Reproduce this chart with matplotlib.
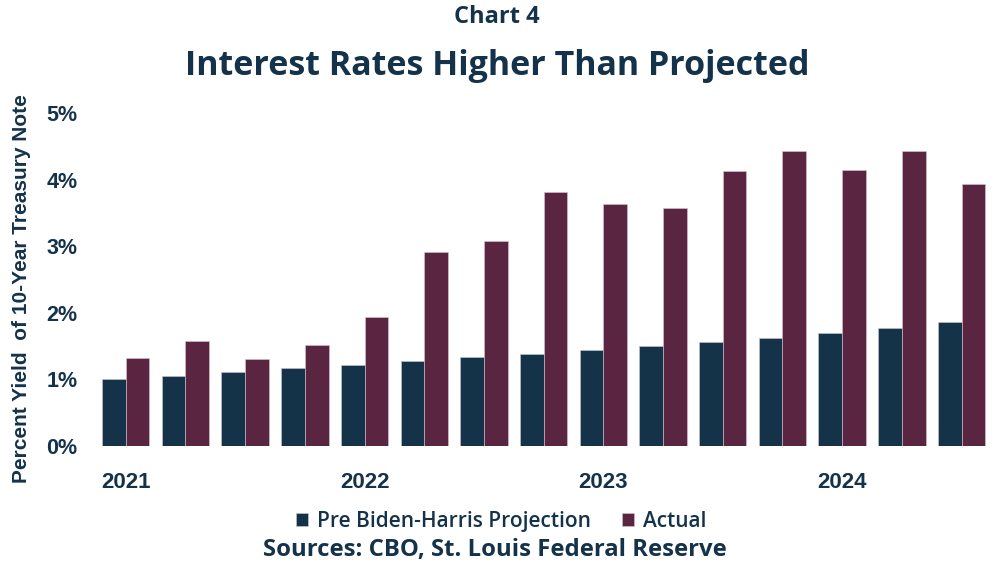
import matplotlib
matplotlib.use("Agg")
import matplotlib.pyplot as plt
import numpy as np

# quarterly data, 2021 Q1 - 2024 Q3
quarters = ["2021 Q1", "2021 Q2", "2021 Q3", "2021 Q4",
            "2022 Q1", "2022 Q2", "2022 Q3", "2022 Q4",
            "2023 Q1", "2023 Q2", "2023 Q3", "2023 Q4",
            "2024 Q1", "2024 Q2", "2024 Q3"]
projection = [1.00, 1.055, 1.105, 1.165, 1.21, 1.27, 1.33, 1.38,
              1.435, 1.495, 1.56, 1.63, 1.705, 1.78, 1.86]
actual = [1.325, 1.58, 1.31, 1.515, 1.94, 2.915, 3.085, 3.815,
          3.63, 3.58, 4.135, 4.43, 4.14, 4.43, 3.935]
year_labels = ["2021", "2022", "2023", "2024"]
year_pos = [0, 4, 8, 12]
y_ticks = [0, 1, 2, 3, 4, 5]

NAVY = "#143248"
MAROON = "#5a2540"
TEXT = "#14334a"

fig = plt.figure(figsize=(10, 5.66), dpi=100)
ax = fig.add_axes([0.09, 0.212, 0.90, 0.588])

x = np.arange(len(quarters))
w = 0.397
ax.bar(x - w / 2, projection, width=w, color=NAVY, edgecolor="#c9c9d4", linewidth=0.4,
       label="Pre Biden-Harris Projection")
ax.bar(x + w / 2, actual, width=w, color=MAROON, edgecolor="#d9c4cf", linewidth=0.4,
       label="Actual")

ax.set_xlim(-0.598, 14.477)
ax.set_ylim(0, 5)
ax.set_yticks(y_ticks)
ax.set_yticklabels([f"{t}%" for t in y_ticks], fontfamily="Liberation Sans",
                   fontweight="bold", fontsize=15.5, color=TEXT)
ax.set_xticks(year_pos)
ax.set_xticklabels(year_labels, fontfamily="Liberation Sans", fontweight="bold",
                   fontsize=16, color=TEXT)
ax.tick_params(axis="both", length=0)
ax.tick_params(axis="x", pad=19)
ax.tick_params(axis="y", pad=9)
for s in ax.spines.values():
    s.set_visible(False)

fig.text(0.022, 0.49, "Percent Yield  of 10-Year Treasury Note", rotation=90,
         ha="center", va="center", fontfamily="Liberation Sans", fontweight="bold",
         fontsize=15, color=TEXT)

fig.text(0.497, 0.970, "Chart 4", ha="center", va="center", fontfamily="Open Sans",
         fontweight="bold", fontsize=17, color=TEXT)
fig.text(0.497, 0.884, "Interest Rates Higher Than Projected", ha="center", va="center",
         fontfamily="Open Sans", fontweight="bold", fontsize=24.5, color=TEXT)

leg = fig.legend(loc="center", bbox_to_anchor=(0.501, 0.079), ncol=2, frameon=False,
                 prop={"family": "Open Sans", "weight": "semibold", "size": 15},
                 handlelength=0.6, handleheight=0.6, handletextpad=0.4, columnspacing=1.5)
for t in leg.get_texts():
    t.set_color(TEXT)

fig.text(0.495, 0.029, "Sources: CBO, St. Louis Federal Reserve", ha="center", va="center",
         fontfamily="Open Sans", fontweight="bold", fontsize=17.2, color=TEXT)

fig.savefig("out.png", dpi=100)
plt.close(fig)
